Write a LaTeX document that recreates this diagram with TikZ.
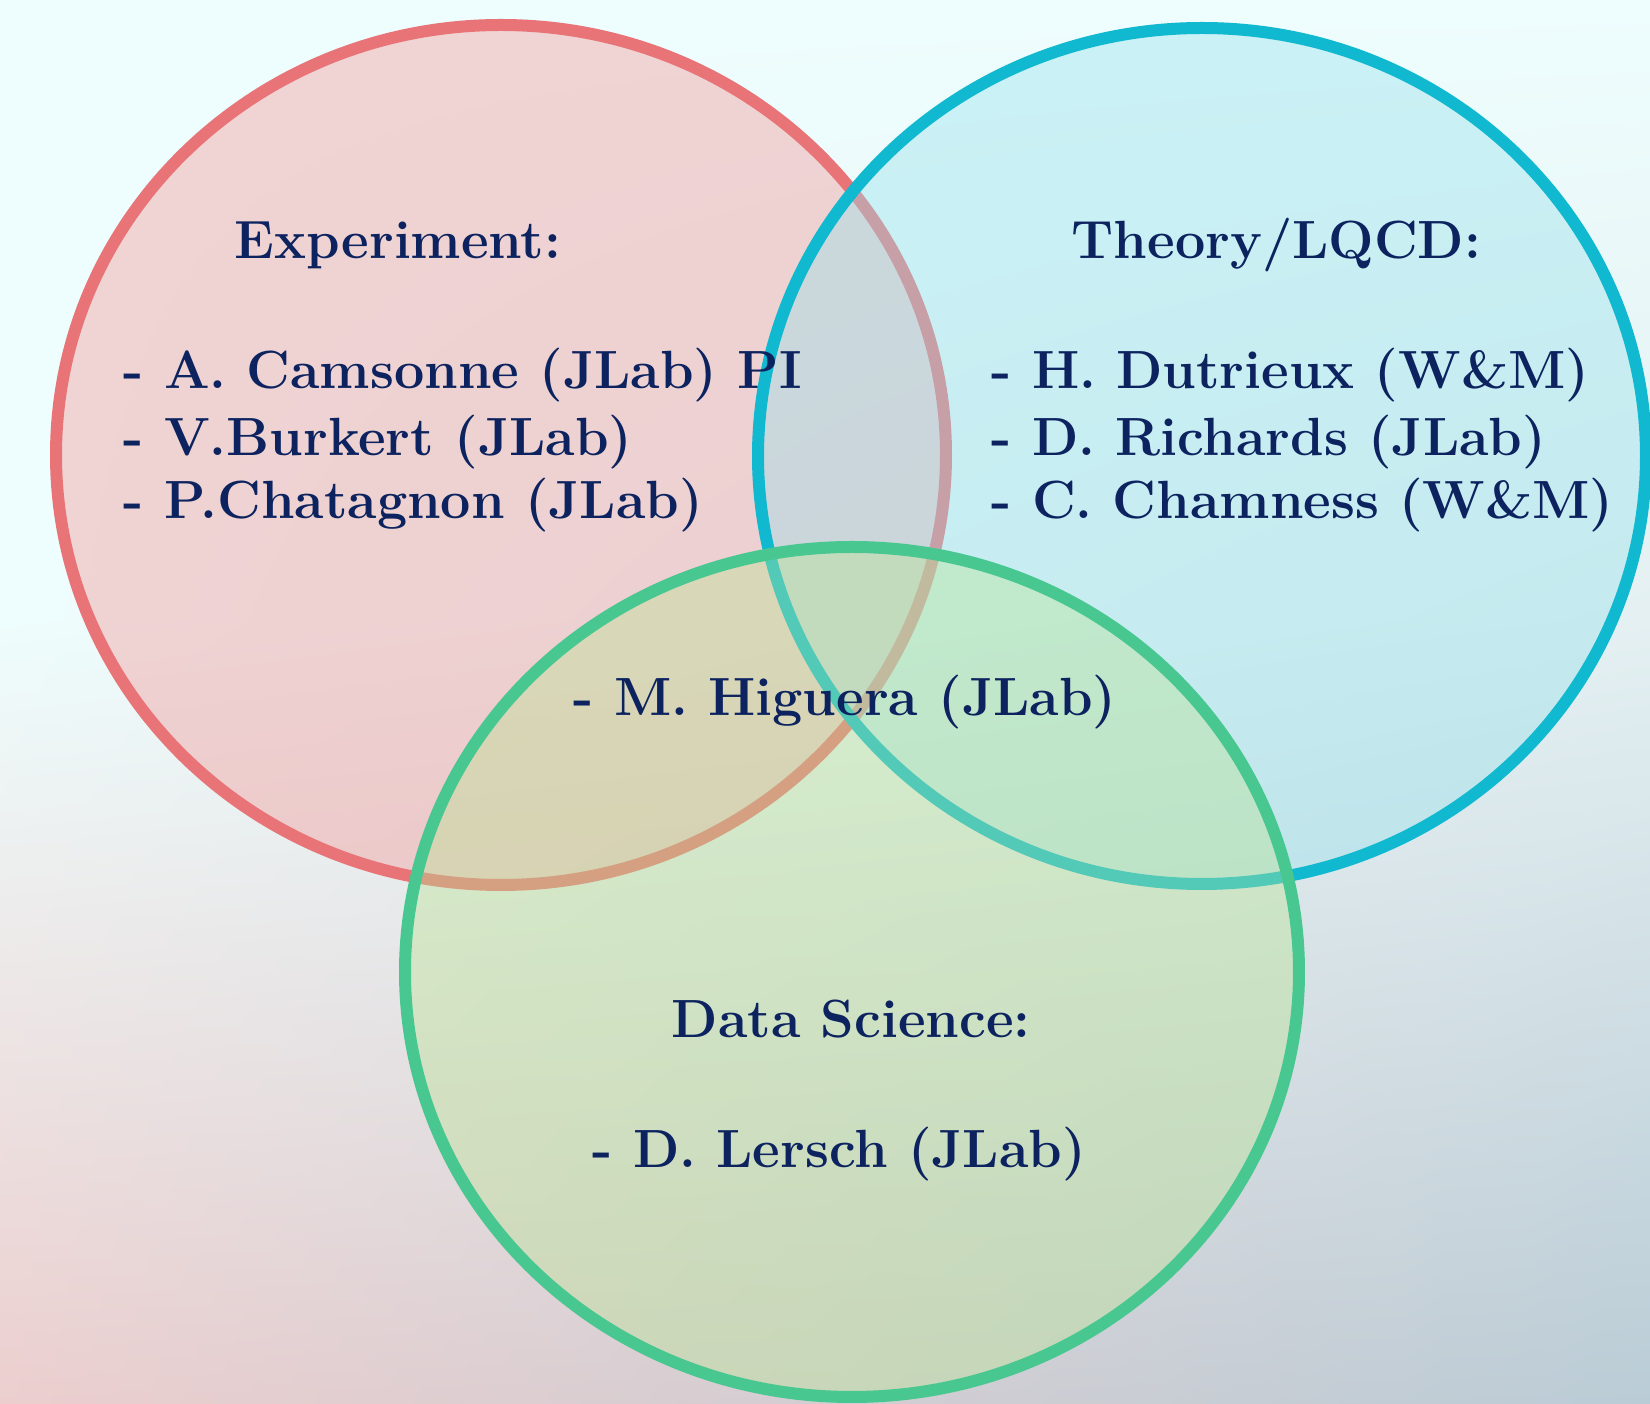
\documentclass[tikz,border=0pt]{standalone}
\usetikzlibrary{shadings}
\newlength{\du}
\setlength{\du}{0.01cm}
\definecolor{bgtop}{RGB}{238,253,253}
\definecolor{bgright}{RGB}{228,240,242}
\definecolor{bgpink}{RGB}{236,206,206}
\definecolor{bgslate}{RGB}{186,204,214}
\definecolor{expline}{RGB}{232,116,120}
\definecolor{expfill}{RGB}{243,150,150}
\definecolor{theoline}{RGB}{16,184,208}
\definecolor{theofill}{RGB}{150,225,235}
\definecolor{dataline}{RGB}{72,200,144}
\definecolor{datafill}{RGB}{185,227,147}
\definecolor{namecol}{RGB}{12,35,95}
\tikzset{
  venn/.style={line width=12\du, fill opacity=0.4},
  member/.style={anchor=base west, inner sep=0pt, text=namecol,
    font=\fontsize{15.3pt}{18pt}\selectfont\bfseries},
}

\begin{document}
\begin{tikzpicture}[yscale=-1]
\useasboundingbox (0,0) rectangle (1650\du,1404\du);
% background
\shade[upper left=bgtop, upper right=bgtop, lower left=bgtop, lower right=bgright]
  (0,0) rectangle (1650\du,620\du);
\shade[upper left=bgtop, upper right=bgright, lower left=bgpink, lower right=bgslate]
  (0,620\du) rectangle (1650\du,1404\du);
% circle centres
\coordinate (expc) at (501\du,455\du);
\coordinate (theoc) at (1202\du,456\du);
\coordinate (datac) at (852\du,972\du);
% the three sets
\draw[venn, draw=expline, fill=expfill] (expc) ellipse [x radius=445\du, y radius=430\du];
\draw[venn, draw=theoline, fill=theofill] (theoc) ellipse [x radius=444\du, y radius=428\du];
\draw[venn, draw=dataline, fill=datafill] (datac) ellipse [x radius=447\du, y radius=425\du];
% experiment
\node[member] (exphead) at (234\du,259\du) {Experiment:};
\node[member] (camsonne) at (123\du,389\du) {- A. Camsonne (JLab) PI};
\node[member] (burkert) at (123\du,456\du) {- V.Burkert (JLab)};
\node[member] (chatagnon) at (123\du,519\du) {- P.Chatagnon (JLab)};
% theory
\node[member] (theohead) at (1071\du,259\du) {Theory/LQCD:};
\node[member] (dutrieux) at (991\du,389\du) {- H. Dutrieux (W\&M)};
\node[member] (richards) at (991\du,456\du) {- D. Richards (JLab)};
\node[member] (chamness) at (991\du,519\du) {- C. Chamness (W\&M)};
% overlap
\node[member] (higuera) at (573\du,716\du) {- M. Higuera (JLab)};
% data science
\node[member] (datahead) at (671\du,1038\du) {Data Science:};
\node[member] (lersch) at (592\du,1168\du) {- D. Lersch (JLab)};
\end{tikzpicture}
\end{document}
